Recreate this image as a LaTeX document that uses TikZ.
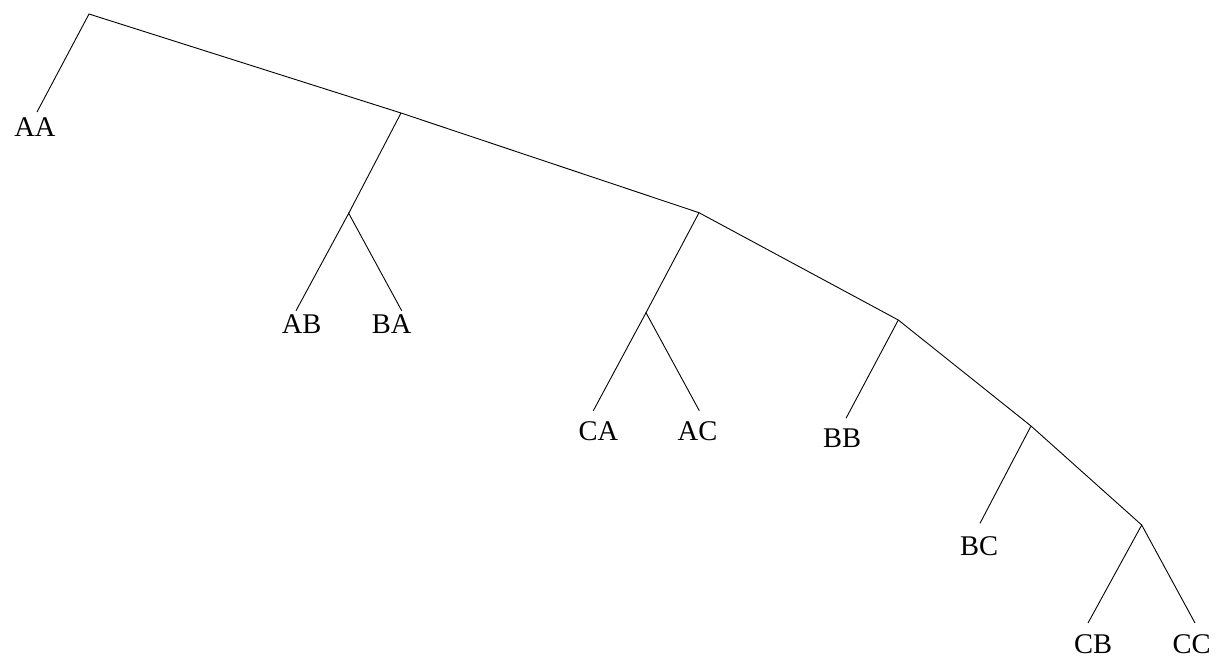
\documentclass[tikz,border=0pt]{standalone}
\usepackage{fontspec}
\setmainfont{Liberation Serif}
\begin{document}
\begin{tikzpicture}[x=1pt,y=-1pt,
  edge/.style={draw=black,line width=0.9pt},
  leaf/.style={anchor=base,inner sep=0pt,font=\fontsize{28.5}{30}\selectfont}]
\useasboundingbox (0,0) rectangle (1217,659);
% internal points
\coordinate (r) at (89,14);
\coordinate (n2) at (401,113);
\coordinate (n2c) at (348.7,213.3);
\coordinate (n3) at (699,212.7);
\coordinate (n3c) at (646,312.7);
\coordinate (n4) at (898.3,320);
\coordinate (n5) at (1031,426);
\coordinate (n6) at (1141.7,525);
% leaf line ends
\coordinate (eAA) at (37,112);
\coordinate (eAB) at (296,310.7);
\coordinate (eBA) at (401.7,310.7);
\coordinate (eCA) at (593.3,410.7);
\coordinate (eAC) at (699.3,410.7);
\coordinate (eBB) at (846,418.3);
\coordinate (eBC) at (980,523.3);
\coordinate (eCB) at (1088,623);
\coordinate (eCC) at (1195,623);
% labels
\node[leaf] (AA) at (35,136) {AA};
\node[leaf] (AB) at (301.7,333) {AB};
\node[leaf] (BA) at (391.7,333) {BA};
\node[leaf] (CA) at (598.3,440.7) {CA};
\node[leaf] (AC) at (697.5,440.7) {AC};
\node[leaf] (BB) at (842,447.7) {BB};
\node[leaf] (BC) at (979,555) {BC};
\node[leaf] (CB) at (1093,653) {CB};
\node[leaf] (CC) at (1191.5,653) {CC};
% edges
\draw[edge] (eAA) -- (r) -- (n2) -- (n3) -- (n4) -- (n5) -- (n6);
\draw[edge] (n2) -- (n2c);
\draw[edge] (eAB) -- (n2c) -- (eBA);
\draw[edge] (n3) -- (n3c);
\draw[edge] (eCA) -- (n3c) -- (eAC);
\draw[edge] (n4) -- (eBB);
\draw[edge] (n5) -- (eBC);
\draw[edge] (eCB) -- (n6) -- (eCC);
\end{tikzpicture}
\end{document}
